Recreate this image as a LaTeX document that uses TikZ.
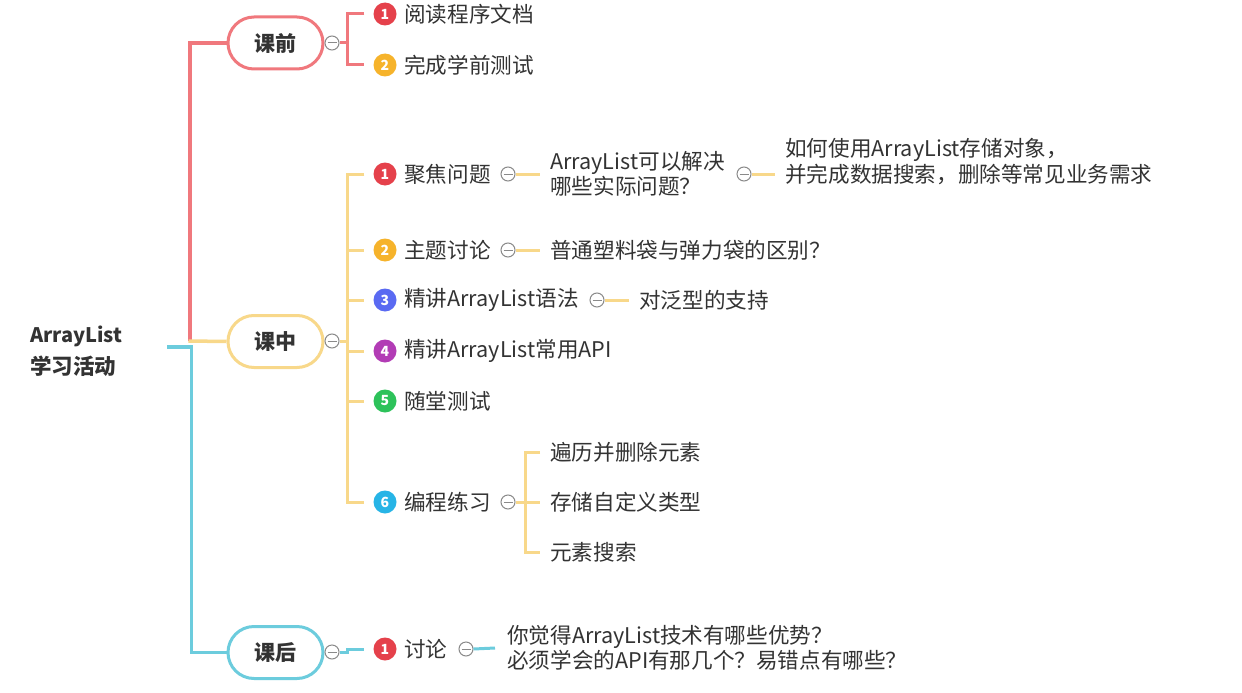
\documentclass[tikz,border=0pt]{standalone}
\usepackage{fontspec}
\setmainfont{Noto Sans CJK SC}
\usetikzlibrary{shapes.misc}
\definecolor{txt}{HTML}{333333}
\definecolor{cred}{HTML}{F0787D}
\definecolor{cyel}{HTML}{F8D88A}
\definecolor{ccyan}{HTML}{6CCCDD}
\definecolor{foldgray}{HTML}{8A8A8A}
\definecolor{bred}{HTML}{E5414B}
\definecolor{borange}{HTML}{F6B32B}
\definecolor{bblue}{HTML}{5A6AF2}
\definecolor{bpurple}{HTML}{B23CB5}
\definecolor{bgreen}{HTML}{2DC25A}
\definecolor{bsky}{HTML}{27B4E6}
\tikzset{
  every node/.style={text=txt},
  lbl/.style={anchor=west, inner sep=0pt, align=left, font=\fontsize{21.6}{25.5}\selectfont},
  pill/.style={rounded rectangle, draw, line width=3pt, fill=white, minimum width=95pt, minimum height=52pt, inner sep=0pt, font=\fontsize{21}{24}\selectfont\bfseries},
  fold/.style={circle, draw=foldgray, line width=1pt, fill=white, minimum size=14pt, inner sep=0pt,
    path picture={\draw[foldgray,line width=1pt] ([xshift=-4.5pt]path picture bounding box.center) -- ([xshift=4.5pt]path picture bounding box.center);}},
  badge/.style={circle, inner sep=0pt, minimum size=23pt, text=white, font=\fontsize{14}{14}\selectfont\bfseries},
  trunk/.style={line width=3.5pt},
  br/.style={line width=3pt},
}
\begin{document}
\begin{tikzpicture}[x=1pt,y=-1pt]
\useasboundingbox[fill=white] (0,0) rectangle (1242,693);

% root
\node[anchor=west, inner sep=0pt, align=left, font=\fontsize{21.5}{32}\selectfont\bfseries] (root) at (30,351) {\fontsize{20}{32}\selectfont ArrayList\\学习活动};
\coordinate (rootout) at (167,347);

% main stages
\node[pill, draw=cred] (p1) at (275.5,43) {课前};
\node[pill, draw=cyel] (p2) at (275.5,341.5) {课中};
\node[pill, draw=ccyan] (p3) at (275.5,652.5) {课后};

\draw[trunk, cred] (190,341) |- (p1.west);
\draw[trunk, cyel] (188.5,341) -- (p2.west);
\draw[trunk, ccyan] (rootout) -- (191.5,347) |- (p3.west);

% fold markers of stages
\node[fold] (f1) at (332,43) {};
\node[fold] (f2) at (332,341) {};
\node[fold] (f3) at (332,652) {};

% ---- 课前 ----
\node[badge, fill=bred] (a1) at (385,14) {1};
\node[lbl] (ta1) at (404,14) {阅读程序文档};
\node[badge, fill=borange] (a2) at (385,65) {2};
\node[lbl] (ta2) at (404,65) {完成学前测试};
\draw[br, cred] (f1.east) -- (347,43);
\draw[br, cred] ([xshift=-9pt]a1.west) -| (347,43) |- ([xshift=-9pt]a2.west);

% ---- 课中 ----
\node[badge, fill=bred] (b1) at (385,174) {1};
\node[lbl] (tb1) at (404,174) {聚焦问题};
\node[badge, fill=borange] (b2) at (385,250) {2};
\node[lbl] (tb2) at (404,250) {主题讨论};
\node[badge, fill=bblue] (b3) at (385,300) {3};
\node[lbl] (tb3) at (404,300) {精讲ArrayList语法};
\node[badge, fill=bpurple] (b4) at (385,351) {4};
\node[lbl] (tb4) at (404,351) {精讲ArrayList常用API};
\node[badge, fill=bgreen] (b5) at (385,401) {5};
\node[lbl] (tb5) at (404,401) {随堂测试};
\node[badge, fill=bsky] (b6) at (385,502) {6};
\node[lbl] (tb6) at (404,502) {编程练习};

\draw[br, cyel] (f2.east) -- (347,341);
\draw[br, cyel] ([xshift=-9pt]b1.west) -| (347,341) |- ([xshift=-9pt]b6.west);
\foreach \b in {b2,b3,b4,b5} \draw[br, cyel] (347,0 |- \b.west) -- ([xshift=-9pt]\b.west);

% 聚焦问题 chain
\node[fold] (g1) at (508,174) {};
\node[lbl] (c1) at (550,174) {ArrayList可以解决\\哪些实际问题？};
\draw[br, cyel] (g1.east) -- ([xshift=-10pt]c1.west);
\node[fold] (h1) at (744,174) {};
\node[lbl] (d1) at (785,161.5) {如何使用ArrayList存储对象，\\并完成数据搜索，删除等常见业务需求};
\draw[br, cyel] (h1.east) -- (775,174);

% 主题讨论
\node[fold] (g2) at (508,250) {};
\node[lbl] (c2) at (550,250) {普通塑料袋与弹力袋的区别？};
\draw[br, cyel] (g2.east) -- ([xshift=-10pt]c2.west);

% 精讲语法
\node[fold] (g3) at (597,300) {};
\node[lbl] (c3) at (639,300) {对泛型的支持};
\draw[br, cyel] (g3.east) -- ([xshift=-10pt]c3.west);

% 编程练习
\node[fold] (g6) at (508,502) {};
\node[lbl] (e1) at (550,452) {遍历并删除元素};
\node[lbl] (e2) at (550,502) {存储自定义类型};
\node[lbl] (e3) at (550,552) {元素搜索};
\draw[br, cyel] (g6.east) -- (525,502);
\draw[br, cyel] ([xshift=-10pt]e1.west) -| (525,502) |- ([xshift=-10pt]e3.west);
\draw[br, cyel] (525,502) -- ([xshift=-10pt]e2.west);

% ---- 课后 ----
\node[badge, fill=bred] (k1) at (385,649) {1};
\node[lbl] (tk1) at (404,649) {讨论};
\draw[br, ccyan] (f3.east) -- (347,652) -- (347,649) -- ([xshift=-9pt]k1.west);
\node[fold] (g7) at (466,649) {};
\node[lbl] (c7) at (507,648) {你觉得ArrayList技术有哪些优势？\\必须学会的API有那几个？易错点有哪些？};
\draw[br, ccyan] (g7.east) -- ([xshift=-12pt]c7.west);
\end{tikzpicture}
\end{document}
